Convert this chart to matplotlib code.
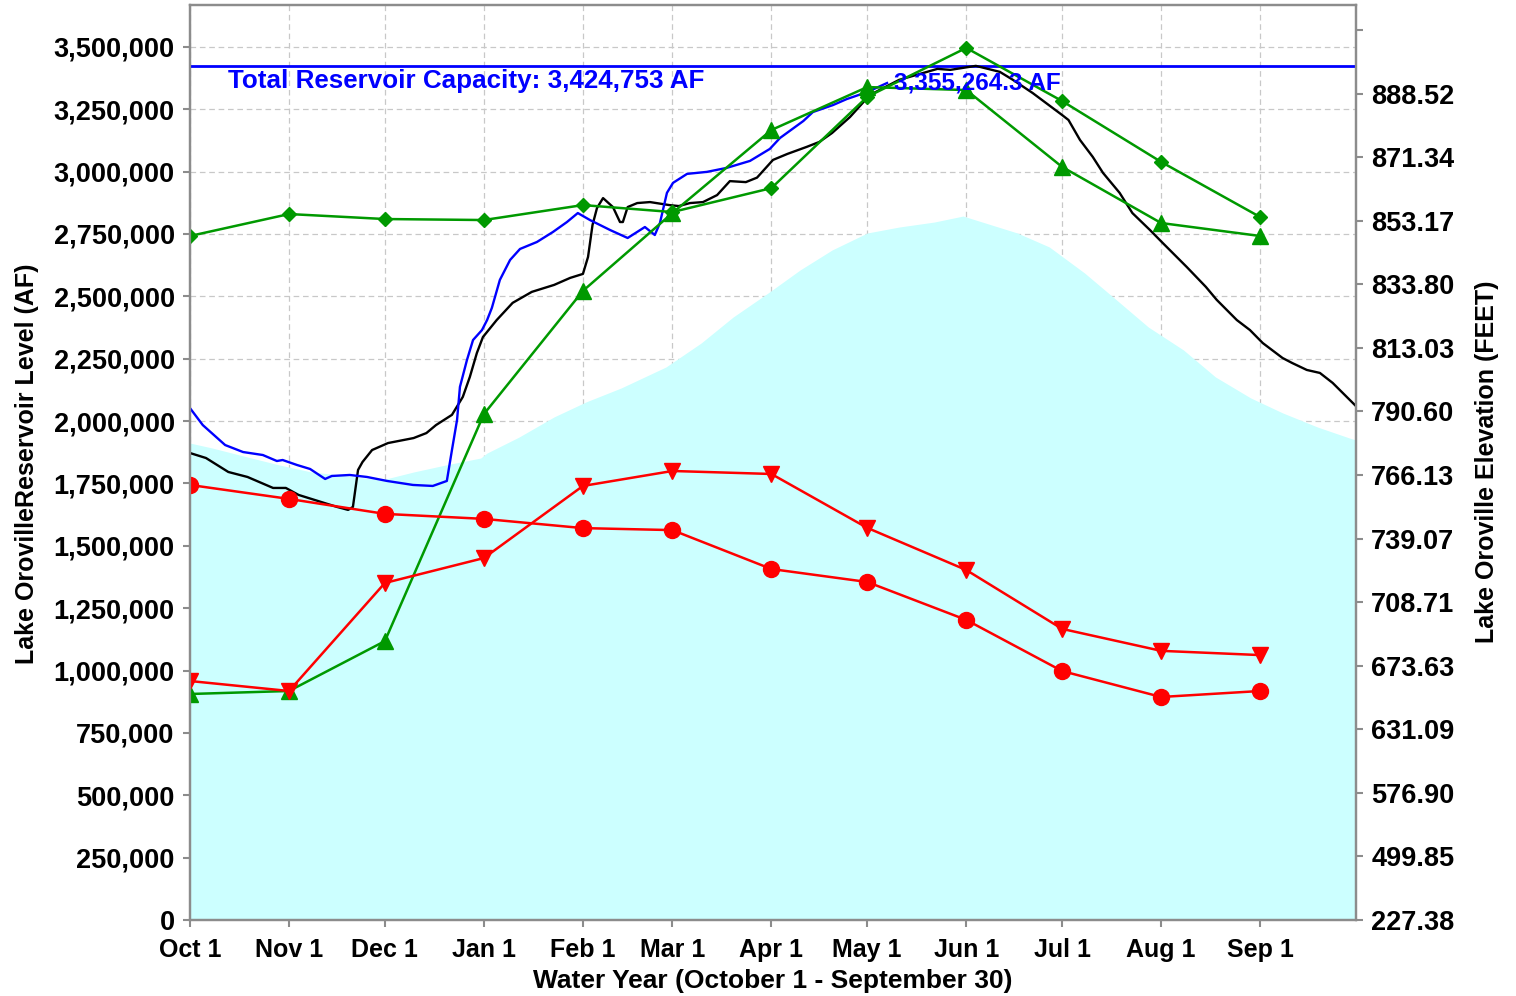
import matplotlib
matplotlib.use("Agg")
import matplotlib.pyplot as plt
import numpy as np

# month ticks (days since Oct 1)
month_labels = ["Oct 1", "Nov 1", "Dec 1", "Jan 1", "Feb 1", "Mar 1",
                "Apr 1", "May 1", "Jun 1", "Jul 1", "Aug 1", "Sep 1"]
month_days = [0, 31, 61, 92, 123, 151, 182, 212, 243, 273, 304, 335]

# historical average storage (cyan area), thousand AF
avg_days = [0, 7, 18, 28, 38, 44, 60, 70, 80, 91, 93, 103, 114, 124, 135, 149,
            160, 170, 181, 191, 201, 212, 222, 233, 242, 248, 259, 269, 280,
            290, 300, 311, 321, 332, 342, 353, 363, 365]
avg_storage = [1912, 1892, 1856, 1824, 1796, 1788, 1764, 1796, 1824, 1852, 1872,
               1936, 2017, 2077, 2133, 2217, 2313, 2417, 2514, 2606, 2686, 2754,
               2778, 2798, 2822, 2798, 2754, 2698, 2594, 2486, 2377, 2285, 2177,
               2093, 2033, 1976, 1932, 1924]

# last year storage (black), thousand AF
last_days = [0, 5, 12, 18, 26, 30, 34, 42, 46, 49.5, 51, 52.6, 54, 57, 62, 70,
             74, 77, 82, 85.4, 87.6, 89.8, 91.7, 96, 101, 107, 114, 119, 123,
             124.6, 126, 127.4, 129.3, 132.4, 134.6, 135.5, 137, 140, 144, 150,
             153, 156.5, 160.6, 165, 169, 174, 177.5, 182.5, 187, 193, 197, 201,
             206.6, 212.8, 222, 234, 238, 246, 253.5, 257.6, 263.8, 273, 275,
             278.6, 282.6, 285.8, 291, 295, 300.5, 304.5, 312, 318, 321.4, 327.7,
             331.8, 335.8, 342, 345, 349.6, 353.7, 357.7, 365]
last_storage = [1872, 1852, 1796, 1776, 1732, 1732, 1704, 1672, 1656, 1644, 1656,
                1804, 1836, 1884, 1912, 1932, 1952, 1984, 2025, 2097, 2177, 2273,
                2337, 2405, 2474, 2518, 2546, 2574, 2590, 2658, 2786, 2854, 2894,
                2858, 2798, 2798, 2858, 2874, 2878, 2866, 2862, 2874, 2878, 2906,
                2962, 2958, 2976, 3047, 3071, 3099, 3119, 3155, 3219, 3307, 3368,
                3412, 3408, 3424, 3400, 3368, 3315, 3227, 3207, 3127, 3059, 2995,
                2915, 2834, 2766, 2714, 2618, 2538, 2486, 2405, 2365, 2313, 2253,
                2233, 2205, 2193, 2153, 2060]

# current year storage (blue), thousand AF
cur_days = [0, 4, 11, 16.6, 22.8, 27.2, 29, 33.5, 37.6, 42.3, 44.4, 50, 55.4,
            61.7, 69.8, 76, 80.4, 82, 83.6, 84.5, 86.7, 88.6, 91.4, 93, 94.5, 97,
            100.2, 103.3, 108.6, 113.6, 118, 121.4, 125.2, 131.5, 137, 142.4,
            145.5, 147.1, 149.3, 151.2, 155.6, 161.8, 168, 175.3, 181.5, 184.7,
            192, 195, 201.3, 205.6, 212, 218.2]
cur_storage = [2052, 1984, 1904, 1876, 1864, 1840, 1844, 1824, 1808, 1768, 1780,
               1784, 1776, 1760, 1744, 1740, 1760, 1884, 2005, 2137, 2245, 2325,
               2365, 2405, 2454, 2566, 2646, 2690, 2718, 2758, 2798, 2834, 2806,
               2766, 2734, 2778, 2746, 2794, 2915, 2955, 2991, 2999, 3015, 3043,
               3091, 3135, 3203, 3239, 3267, 3291, 3319, 3355.2643]

# monthly forecast series, thousand AF
green_tri = [906, 918, 1118, 2028, 2522, 2834, 3167, 3339, 3327, 3019, 2794, 2742]
green_dia = [2742, 2830, 2810, 2806, 2866, 2838, 2934, 3300, 3496, 3283, 3039, 2818]
red_dot = [1744, 1688, 1628, 1608, 1571, 1563, 1407, 1355, 1203, 998, 894, 918]
red_tri = [958, 918, 1351, 1451, 1740, 1800, 1788, 1572, 1403, 1167, 1079, 1062]

capacity = 3424753
current_value = 3355264.3

left_ticks = list(range(0, 3500001, 250000))
elev_labels = ["227.38", "499.85", "576.90", "631.09", "673.63", "708.71",
               "739.07", "766.13", "790.60", "813.03", "833.80", "853.17",
               "871.34", "888.52", ""]

plt.rcParams['font.family'] = ['Liberation Sans', 'DejaVu Sans']
plt.rcParams['font.weight'] = 'bold'
plt.rcParams['font.size'] = 18

GREEN = '#009900'
GRAY = '#8c8c8c'

fig = plt.figure(figsize=(15.16, 9.96), dpi=100)
ax = fig.add_axes([190 / 1516, 1 - 920 / 996, 1166 / 1516, 915 / 996])

ax.fill_between(avg_days, 0, np.array(avg_storage) * 1000, color='#ccffff',
                linewidth=0, zorder=1)
ax.axhline(capacity, color='#0000ff', linewidth=2, zorder=3)
ax.plot(last_days, np.array(last_storage) * 1000, color='black', linewidth=1.7, zorder=4)
ax.plot(cur_days, np.array(cur_storage) * 1000, color='#0000ff', linewidth=1.7, zorder=4)

ax.plot(month_days, np.array(green_dia) * 1000, color=GREEN, marker='D',
        markersize=7.5, linewidth=1.8, zorder=5)
ax.plot(month_days, np.array(green_tri) * 1000, color=GREEN, marker='^',
        markersize=11.5, linewidth=1.8, zorder=5)
ax.plot(month_days, np.array(red_dot) * 1000, color='#ff0000', marker='o',
        markersize=11.5, linewidth=1.8, zorder=5)
ax.plot(month_days, np.array(red_tri) * 1000, color='#ff0000', marker='v',
        markersize=11.5, linewidth=1.8, zorder=5)

ax.text(12, 3363000, "Total Reservoir Capacity: 3,424,753 AF", color='#0000ff',
        ha='left', va='center', fontsize=18.7, zorder=6)
ax.text(220.5, current_value, f"{current_value:,.1f} AF", color='#0000ff',
        ha='left', va='center', fontsize=17.5, zorder=6)

ax.set_xlim(0, 365)
ax.set_ylim(0, 3668000)
ax.set_xticks(month_days)
ax.set_xticklabels(month_labels)
ax.set_yticks(left_ticks)
ax.set_yticklabels([f"{v:,}" for v in left_ticks])

ax.set_axisbelow(True)
ax.grid(True, color='#c8c8c8', linestyle=(0, (4.5, 3)), linewidth=0.9)
for s in ax.spines.values():
    s.set_color(GRAY)
    s.set_linewidth(1.6)
ax.tick_params(axis='both', colors=GRAY, labelcolor='black', length=5,
               width=1.5, pad=6)
ax.tick_params(axis='x', pad=8, labelsize=18)
ax.tick_params(axis='y', labelsize=19.5)

ax2 = ax.twinx()
ax2.set_ylim(0, 915 / 63.57)
ax2.set_yticks(range(len(elev_labels)))
ax2.set_yticklabels(elev_labels)
ax2.tick_params(axis='y', colors=GRAY, labelcolor='black', length=5,
                width=1.5, pad=6, labelsize=19.5)
for s in ax2.spines.values():
    s.set_color(GRAY)
    s.set_linewidth(1.6)

fig.text(27 / 1516, 1 - 464 / 996, "Lake OrovilleReservoir Level (AF)",
         rotation=90, ha='center', va='center', fontsize=18)
fig.text(1487 / 1516, 1 - 462 / 996, "Lake Oroville Elevation (FEET)",
         rotation=90, ha='center', va='center', fontsize=18)
fig.text(773 / 1516, 1 - 981 / 996, "Water Year (October 1 - September 30)",
         ha='center', va='center', fontsize=19)

fig.savefig("out.png", dpi=100)
